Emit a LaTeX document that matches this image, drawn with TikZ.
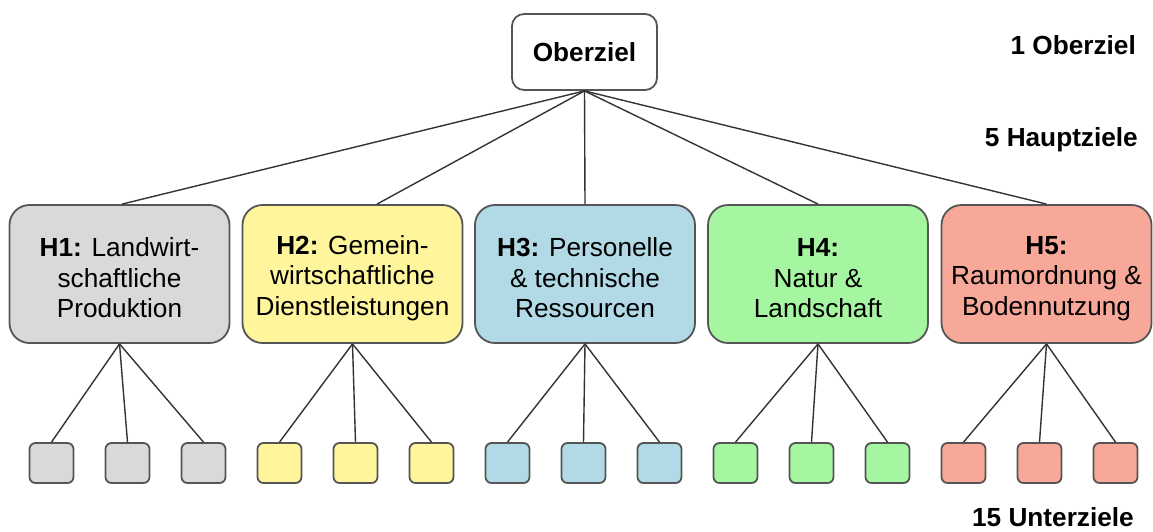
\documentclass[tikz,border=0pt]{standalone}
\usepackage{fontspec}
\setmainfont{Liberation Sans}
\usetikzlibrary{calc}
\definecolor{cgray}{HTML}{D9D9D9}
\definecolor{cyellow}{HTML}{FFF59C}
\definecolor{cblue}{HTML}{B1DAE6}
\definecolor{cgreen}{HTML}{A6F5A0}
\definecolor{cpink}{HTML}{F8A899}
\definecolor{edge}{HTML}{555555}
\newcommand\myTopStrut{\rule{0pt}{27pt}}
\begin{document}
\begin{tikzpicture}[x=1pt,y=-1pt,
  txt/.style={font=\fontsize{26.2}{30.5}\selectfont, align=center, inner sep=0pt},
  topbox/.style={txt, draw=edge, line width=1.8pt, fill=white, rounded corners=12pt, minimum width=145pt, minimum height=76pt},
  hbox/.style={txt, draw=edge, line width=1.8pt, rounded corners=20pt, minimum width=220pt, minimum height=138pt},
  ubox/.style={draw=edge, line width=1.8pt, rounded corners=6pt, minimum width=44pt, minimum height=40pt, inner sep=0pt},
  conn/.style={draw=black!80, line width=1.4pt},
  lbl/.style={txt, font=\fontsize{26.2}{30.5}\selectfont\bfseries, anchor=east}]
\useasboundingbox (0,0) rectangle (1153,531);

\node[topbox] (top) at (584.5,52) {\textbf{Oberziel}};

\node[hbox, fill=cgray] (h1) at (119.5,274) {\myTopStrut\textbf{H1:} Landwirt-\\schaftliche\\Produktion};
\node[hbox, fill=cyellow] (h2) at (352.5,274) {\myTopStrut\textbf{H2:} Gemein-\\wirtschaftliche\\Dienstleistungen};
\node[hbox, fill=cblue] (h3) at (585,274) {\myTopStrut\textbf{H3:} Personelle\\\& technische\\Ressourcen};
\node[hbox, fill=cgreen] (h4) at (818,274) {\myTopStrut\textbf{H4:}\\Natur \&\\Landschaft};
\node[hbox, fill=cpink, minimum width=210pt] (h5) at (1046.5,274) {\myTopStrut\textbf{H5:}\\Raumordnung \&\\Bodennutzung};

\draw[conn] (top.south) -- ($(h1.north)+(2.5,0)$);
\draw[conn] (top.south) -- ($(h2.north)+(24.5,0)$);
\draw[conn] (top.south) -- (h3.north);
\draw[conn] (top.south) -- (h4.north);
\draw[conn] (top.south) -- (h5.north);

\foreach \i/\c [count=\k from 0] in {1/cgray,2/cyellow,3/cblue,4/cgreen,5/cpink}{
  \foreach \j in {1,2,3}{
    \pgfmathsetmacro{\xx}{51.5+76*(3*\k+\j-1)}
    \node[ubox, fill=\c] (u\i\j) at (\xx,463) {};
    \draw[conn] (h\i.south) -- (u\i\j.north);
  }
}

\node[lbl] (l1) at (1136,45) {1 Oberziel};
\node[lbl] (l2) at (1138,140) {5 Hauptziele};
\node[lbl] (l3) at (1134,517) {15 Unterziele};
\end{tikzpicture}
\end{document}
